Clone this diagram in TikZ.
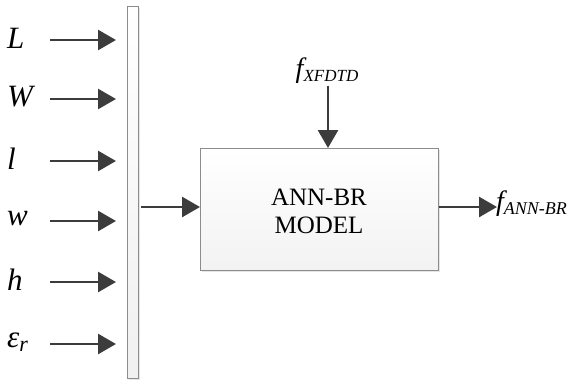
\documentclass[tikz,border=0pt]{standalone}
\usepackage{fontspec}
\setmainfont{Liberation Serif}
\usetikzlibrary{arrows.meta,shadows}
\definecolor{arr}{HTML}{3C3C3C}
\definecolor{edge}{HTML}{8C8C8C}
\begin{document}
\begin{tikzpicture}[x=1pt,y=-1pt,
  inarrow/.style={draw=arr,line width=2.7pt,-{Triangle[length=18pt,width=20pt]}},
  varlab/.style={font=\fontsize{31}{33}\selectfont\itshape,inner sep=0pt},
  boxtext/.style={font=\fontsize{25}{28}\selectfont,align=center}]
\useasboundingbox (0,0) rectangle (570,383);
% bar
\node[draw=edge,line width=0.8pt,top color=white,bottom color=gray!12,
  minimum width=11pt,minimum height=372pt,inner sep=0pt,anchor=north west,
  drop shadow={shadow xshift=2pt,shadow yshift=-2pt,opacity=0.2}] (bar) at (127,6) {};
% model box
\node[draw=edge,line width=0.8pt,top color=white,bottom color=gray!10,
  minimum width=238pt,minimum height=122pt,inner sep=0pt,anchor=north west,
  drop shadow={shadow xshift=2pt,shadow yshift=-2pt,opacity=0.2}] (box) at (200,148) {};
\node[boxtext] (boxlab) at (319,211) {ANN-BR\\MODEL};
% inputs
\foreach \n/\t/\y in {a/L/38,b/W/97,c/l/159,d/w/219,e/h/280,f/{ε\textsubscript{\fontsize{22}{22}\selectfont r}}/342}{
  \node[varlab,anchor=west] (v\n) at (7,\y) {\t};
  \coordinate (s\n) at (50,\y+2);
  \coordinate (t\n) at (116,\y+2);
  \draw[inarrow] (s\n) -- (t\n);
}
% bar to box
\coordinate (m1) at (141,207);
\draw[inarrow] (m1) -- (box.west |- m1);
% top input
\node[font=\fontsize{28}{30}\selectfont\itshape,inner sep=0pt] (fx) at (327,71)
  {f{\fontsize{17}{17}\selectfont\raisebox{-4pt}{XFDTD}}};
\coordinate (fxb) at (328,86);
\draw[inarrow] (fxb) -- (box.north -| fxb);
% output
\coordinate (o1) at (box.east |- 0,207);
\coordinate (o2) at (497,207);
\draw[inarrow] (o1) -- (o2);
\node[font=\fontsize{28}{30}\selectfont\itshape,inner sep=0pt,anchor=west] (fo) at (496,204)
  {f{\fontsize{18}{18}\selectfont\raisebox{-4pt}{ANN-BR}}};
\end{tikzpicture}
\end{document}
